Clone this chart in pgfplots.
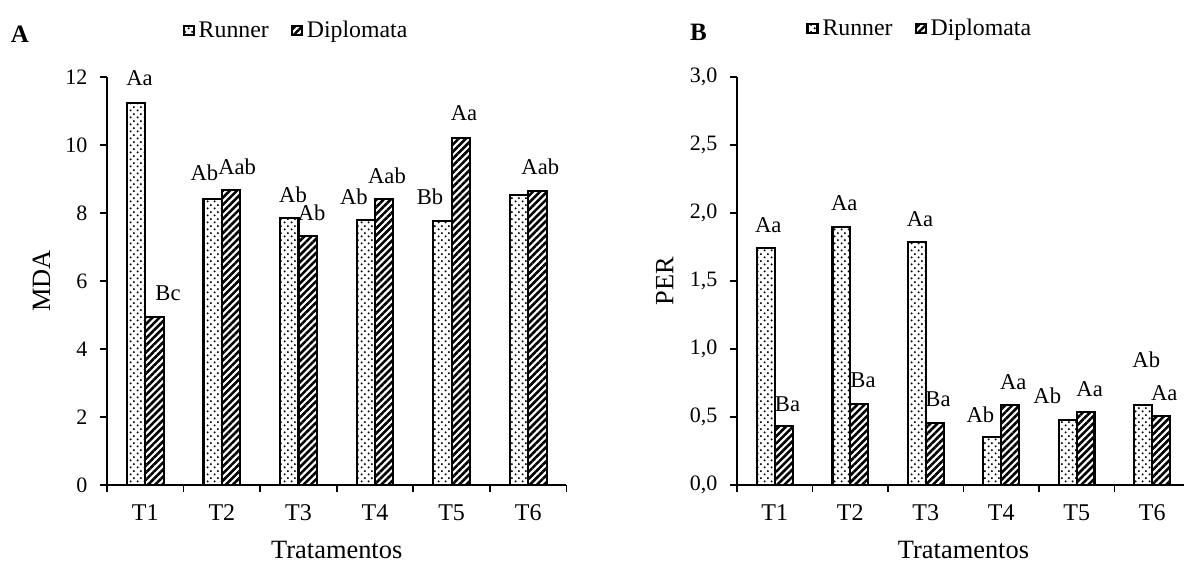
\documentclass[border=0pt]{standalone}
\usepackage{pgfplots}
\pgfplotsset{compat=1.18}
\usepackage{fontspec}
\setmainfont{Liberation Serif}
\usetikzlibrary{patterns.meta}

% staggered dot fill for Runner
\pgfdeclarepattern{
  name=runnerdots,
  type=uncolored,
  bottom left={\pgfpoint{0pt}{0pt}},
  top right={\pgfpoint{3.6pt}{3.6pt}},
  tile size={\pgfpoint{3.6pt}{3.6pt}},
  code={
    \pgfpathcircle{\pgfpoint{0.9pt}{0.9pt}}{0.6pt}
    \pgfpathcircle{\pgfpoint{2.7pt}{2.7pt}}{0.6pt}
    \pgfusepath{fill}
  }
}

\tikzset{lab/.style={font=\fontsize{11.3}{13}\selectfont, anchor=center, inner sep=0pt}}

\pgfplotsset{
  panel/.style={
    scale only axis, height=204pt,
    ybar=0pt,
    xmin=0.5, xmax=6.5, ymin=0,
    axis x line=bottom, axis y line=left,
    axis line style={-, line width=0.9pt},
    x axis line style={shorten <=-2.5pt},
    xtick={1,2,3,4,5,6}, xticklabels={T1,T2,T3,T4,T5,T6},
    major x tick style={draw=none},
    minor xtick={0.5,1.5,2.5,3.5,4.5,5.5,6.5},
    tick align=outside,
    tick style={line width=0.9pt, black},
    major tick length=3.5pt, minor tick length=3.5pt,
    /pgf/number format/assume math mode=true,
    yticklabel style={font=\fontsize{11}{13}\selectfont, xshift=-2.8pt},
    xticklabel style={font=\fontsize{12}{14}\selectfont, yshift=-3pt},
    label style={font=\fontsize{13.2}{15}\selectfont},
    xlabel={Tratamentos},
    xlabel style={at={(axis description cs:0.5,0)}, anchor=base, yshift=-36.7pt},
    legend style={draw=none, fill=none, legend columns=-1,
      font=\fontsize{11.9}{14}\selectfont,
      /tikz/every even column/.append style={column sep=9pt}},
    legend image code/.code={\draw[#1] (0pt,-2pt) rectangle (5pt,2.4pt);},
    clip=false,
  },
  runner/.style={draw=black, line width=1.05pt, fill=white,
    pattern=runnerdots, pattern color=black},
  diplo/.style={draw=black, line width=1.05pt, fill=white,
    pattern={Lines[angle=45, distance=2.5pt, line width=1.3pt]}, pattern color=black},
}

\begin{document}
\begin{tikzpicture}

% Panel A: MDA
\begin{axis}[panel,
  width=229.75pt, at={(53.5pt,38.5pt)}, anchor=south west,
  bar width=9.2pt, ymax=12, ytick={0,2,4,6,8,10,12},
  ylabel={MDA},
  ylabel style={at={(axis description cs:-0.124,0.5)}, anchor=base},
  legend style={at={(axis description cs:0.4135,1.113)}, anchor=center},
]
\addplot[runner] coordinates {(1,11.24) (2,8.41) (3,7.85) (4,7.79) (5,7.76) (6,8.52)};
\addplot[diplo] coordinates {(1,4.95) (2,8.67) (3,7.32) (4,8.40) (5,10.21) (6,8.65)};
\legend{Runner, Diplomata}
\node[lab] at (axis cs:0.924,11.97) {Aa};
\node[lab] at (axis cs:1.297,5.65) {Bc};
\node[lab] at (axis cs:1.773,9.18) {Ab};
\node[lab] at (axis cs:2.199,9.36) {Aab};
\node[lab] at (axis cs:2.929,8.53) {Ab};
\node[lab] at (axis cs:3.173,8.01) {Ab};
\node[lab] at (axis cs:3.725,8.48) {Ab};
\node[lab] at (axis cs:4.156,9.10) {Aab};
\node[lab] at (axis cs:4.718,8.48) {Bb};
\node[lab] at (axis cs:5.162,10.95) {Aa};
\node[lab] at (axis cs:6.158,9.36) {Aab};
\end{axis}

% Panel B: PER
\begin{axis}[panel,
  width=226.5pt, at={(368.5pt,38.5pt)}, anchor=south west,
  bar width=8.9pt, ymax=3, ytick={0,0.5,1,1.5,2,2.5,3},
  yticklabel style={/pgf/number format/.cd, fixed, fixed zerofill, precision=1, use comma},
  ylabel={PER},
  ylabel style={at={(axis description cs:-0.1406,0.5)}, anchor=base},
  legend style={at={(axis description cs:0.4057,1.118)}, anchor=center},
]
\addplot[runner] coordinates {(1,1.74) (2,1.90) (3,1.79) (4,0.35) (5,0.48) (6,0.585)};
\addplot[diplo] coordinates {(1,0.434) (2,0.596) (3,0.458) (4,0.588) (5,0.539) (6,0.507)};
\legend{Runner, Diplomata}
\node[lab] at (axis cs:0.915,1.910) {Aa};
\node[lab] at (axis cs:1.169,0.595) {Ba};
\node[lab] at (axis cs:1.921,2.074) {Aa};
\node[lab] at (axis cs:2.169,0.771) {Ba};
\node[lab] at (axis cs:2.924,1.952) {Aa};
\node[lab] at (axis cs:3.162,0.632) {Ba};
\node[lab] at (axis cs:3.723,0.514) {Ab};
\node[lab] at (axis cs:4.160,0.755) {Aa};
\node[lab] at (axis cs:4.610,0.654) {Ab};
\node[lab] at (axis cs:5.171,0.703) {Aa};
\node[lab] at (axis cs:5.921,0.918) {Ab};
\node[lab] at (axis cs:6.160,0.674) {Aa};
\end{axis}

% panel letters
\node[font=\bfseries\fontsize{12.5}{14}\selectfont, anchor=base] at (10pt,259.65pt) {A};
\node[font=\bfseries\fontsize{12.5}{14}\selectfont, anchor=base] at (349.2pt,260.65pt) {B};

\pgfresetboundingbox
\path[use as bounding box] (0pt,0pt) rectangle (592pt,281pt);
\end{tikzpicture}
\end{document}
